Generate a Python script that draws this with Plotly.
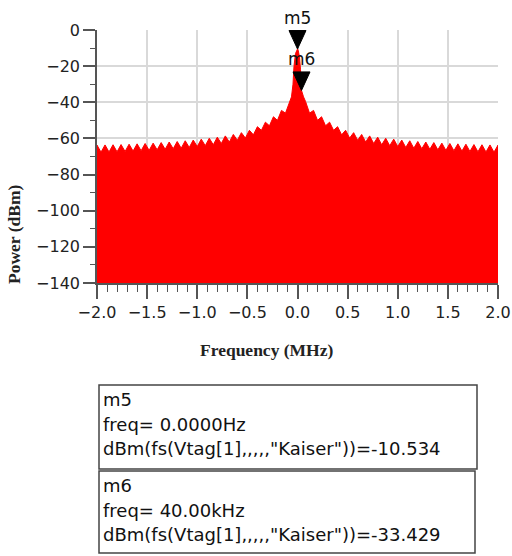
import plotly.graph_objects as go

# ---- spectrum data (frequency in MHz, power in dBm) ----
# sidelobe tooth peaks, every 80 kHz away from the carrier
tooth_freq_mhz = [
    -2.00, -1.92, -1.84, -1.76, -1.68, -1.60, -1.52, -1.44, -1.36, -1.28,
    -1.20, -1.12, -1.04, -0.96, -0.88, -0.80, -0.72, -0.64, -0.56, -0.48,
    -0.40, -0.32, -0.24, -0.16, -0.08,
    0.08, 0.16, 0.24, 0.32, 0.40, 0.48, 0.56, 0.64, 0.72, 0.80,
    0.88, 0.96, 1.04, 1.12, 1.20, 1.28, 1.36, 1.44, 1.52, 1.60,
    1.68, 1.76, 1.84, 1.92, 2.00,
]
tooth_peak_dbm = [
    -63.7, -63.6, -63.5, -63.4, -63.2, -63.0, -62.8, -62.6, -62.3, -62.0,
    -61.7, -61.3, -60.9, -60.4, -59.9, -59.3, -58.6, -57.8, -56.8, -55.5,
    -53.5, -51.0, -48.0, -44.5, -39.8,
    -39.5, -44.5, -48.0, -51.0, -53.5, -55.5, -56.8, -57.8, -58.6, -59.3,
    -59.9, -60.4, -60.9, -61.3, -61.7, -62.0, -62.3, -62.6, -62.8, -63.0,
    -63.2, -63.4, -63.5, -63.6, -63.7,
]
# notches between neighbouring sidelobe peaks
trough_freq_mhz = [
    -1.96, -1.88, -1.80, -1.72, -1.64, -1.56, -1.48, -1.40, -1.32, -1.24,
    -1.16, -1.08, -1.00, -0.92, -0.84, -0.76, -0.68, -0.60, -0.52, -0.44,
    -0.36, -0.28, -0.20, -0.12,
    0.12, 0.20, 0.28, 0.36, 0.44, 0.52, 0.60, 0.68, 0.76, 0.84,
    0.92, 1.00, 1.08, 1.16, 1.24, 1.32, 1.40, 1.48, 1.56, 1.64,
    1.72, 1.80, 1.88, 1.96,
]
trough_dbm = [
    -67.6, -67.5, -67.4, -67.2, -67.0, -66.8, -66.6, -66.3, -66.0, -65.7,
    -65.4, -65.0, -64.5, -64.0, -63.5, -62.8, -62.0, -61.0, -59.8, -58.0,
    -55.5, -53.0, -50.0, -46.0,
    -46.0, -50.0, -53.0, -55.5, -58.0, -59.8, -61.0, -62.0, -62.8, -63.5,
    -64.0, -64.5, -65.0, -65.4, -65.7, -66.0, -66.3, -66.6, -66.8, -67.0,
    -67.2, -67.4, -67.5, -67.6,
]
# main lobe around the carrier (marker points are added from the marker table)
lobe_freq_mhz = [-0.06, -0.045, -0.035, -0.02, -0.008, 0.008, 0.02, 0.03, 0.06]
lobe_dbm = [-37.0, -30.0, -20.0, -13.0, -11.2, -11.5, -15.0, -22.0, -37.0]
noise_floor_dbm = -150.0

# ---- markers ----
marker_names = ["m5", "m6"]
marker_freq_hz = [0.0, 40.0e3]
marker_dbm = [-10.534, -33.429]
marker_expr = 'dBm(fs(Vtag[1],,,,,"Kaiser"))'

# ---- figure geometry ----
W, H = 512, 556
ML, MR, MT, MB = 97, 14, 30, 273
X_RANGE = [-2.0, 2.0]
Y_RANGE = [-140, 0]
plot_w = W - ML - MR
plot_h = H - MT - MB
px_per_mhz = plot_w / (X_RANGE[1] - X_RANGE[0])
px_per_db = plot_h / (Y_RANGE[1] - Y_RANGE[0])

RED = "#ff0000"
GRID = "#d9d9d9"
AXIS = "#555555"
SANS = "DejaVu Sans"
SERIF = "Liberation Serif"


def px_x(px):
    return (px - ML) / plot_w


def px_y(py):
    return (H - MB - py) / plot_h


def fmt_freq(hz):
    if hz == 0:
        return "0.0000Hz"
    if abs(hz) >= 1e6:
        return f"{hz / 1e6:.2f}MHz"
    return f"{hz / 1e3:.2f}kHz"


# merge every envelope point into one frequency-ordered outline
marker_freq_mhz = [f / 1e6 for f in marker_freq_hz]
pts = list(zip(tooth_freq_mhz, tooth_peak_dbm)) + list(zip(trough_freq_mhz, trough_dbm))
pts += list(zip(lobe_freq_mhz, lobe_dbm)) + list(zip(marker_freq_mhz, marker_dbm))
pts.sort(key=lambda p: p[0])
env_x = [p[0] for p in pts]
env_y = [p[1] for p in pts]

fig = go.Figure()

fig.add_trace(go.Scatter(
    x=[env_x[0]] + env_x + [env_x[-1]],
    y=[noise_floor_dbm] + env_y + [noise_floor_dbm],
    mode="lines", fill="toself", fillcolor=RED,
    line=dict(color=RED, width=1), hoverinfo="skip", showlegend=False,
))

# marker triangles: tip sits on the marked point
TRI_W_PX, TRI_H_PX = 17, 18.5
tw = TRI_W_PX / px_per_mhz
th = TRI_H_PX / px_per_db
annotations = []
for name, f, d in zip(marker_names, marker_freq_mhz, marker_dbm):
    fig.add_trace(go.Scatter(
        x=[f - tw / 2, f + tw / 2, f, f - tw / 2],
        y=[d + th, d + th, d, d + th],
        mode="lines", fill="toself", fillcolor="black",
        line=dict(color="black", width=1), hoverinfo="skip", showlegend=False,
    ))
    annotations.append(dict(
        x=f, y=d + th, xref="x", yref="y", text=name, showarrow=False,
        xanchor="center", yanchor="bottom", yshift=1,
        font=dict(family=SANS, size=17, color="#111111"),
    ))

# marker readout boxes below the plot
boxes = [(99, 385, 477, 469), (99, 471, 475, 553)]
shapes = []
for (x0, y0, x1, y1), name, fhz, d in zip(boxes, marker_names, marker_freq_hz, marker_dbm):
    shapes.append(dict(
        type="rect", xref="paper", yref="paper",
        x0=px_x(x0), x1=px_x(x1), y0=px_y(y1), y1=px_y(y0),
        line=dict(color="#444444", width=1.5), fillcolor="white", layer="above",
    ))
    lines = [name, f"freq= {fmt_freq(fhz)}", f"{marker_expr}={d:.3f}"]
    for i, txt in enumerate(lines):
        annotations.append(dict(
            x=px_x(x0 + 2), y=px_y(y0 + 14.5 + i * 24.5), xref="paper", yref="paper",
            text=txt, showarrow=False, xanchor="left", yanchor="middle",
            font=dict(family=SANS, size=18, color="#111111"),
        ))

# axis titles
annotations.append(dict(
    x=px_x(266), y=px_y(350), xref="paper", yref="paper",
    text="<b>Frequency (MHz)</b>", showarrow=False,
    xanchor="center", yanchor="middle",
    font=dict(family=SERIF, size=17.5, color="#222222"),
))
annotations.append(dict(
    x=px_x(14), y=px_y(235), xref="paper", yref="paper",
    text="<b>Power (dBm)</b>", showarrow=False, textangle=-90,
    xanchor="center", yanchor="middle",
    font=dict(family=SERIF, size=17.5, color="#222222"),
))

fig.update_layout(
    width=W, height=H,
    margin=dict(l=ML, r=MR, t=MT, b=MB, pad=0, autoexpand=False),
    paper_bgcolor="white", plot_bgcolor="white",
    showlegend=False,
    shapes=shapes,
    annotations=annotations,
    xaxis=dict(
        range=X_RANGE, tick0=-2.0, dtick=0.5, tickformat=".1f",
        showgrid=True, gridcolor=GRID, gridwidth=2, zeroline=False,
        showline=True, linecolor=AXIS, linewidth=1.5,
        ticks="outside", ticklen=14, tickwidth=1.5, tickcolor=AXIS,
        tickfont=dict(family=SANS, size=16, color="#222222"),
        minor=dict(dtick=0.1, ticks="outside", ticklen=7, tickwidth=1.2,
                   tickcolor=AXIS, showgrid=False),
        layer="below traces", fixedrange=True, automargin=False,
    ),
    yaxis=dict(
        range=Y_RANGE, tick0=0, dtick=20,
        showgrid=True, gridcolor=GRID, gridwidth=2, zeroline=False,
        showline=True, linecolor=AXIS, linewidth=1.5,
        ticks="outside", ticklen=12, tickwidth=1.5, tickcolor=AXIS,
        tickfont=dict(family=SANS, size=16, color="#222222"),
        minor=dict(dtick=10, ticks="outside", ticklen=5, tickwidth=1.2,
                   tickcolor=AXIS, showgrid=False),
        layer="below traces", fixedrange=True, automargin=False,
    ),
)

fig.write_html("out.html", config={"displayModeBar": False})
